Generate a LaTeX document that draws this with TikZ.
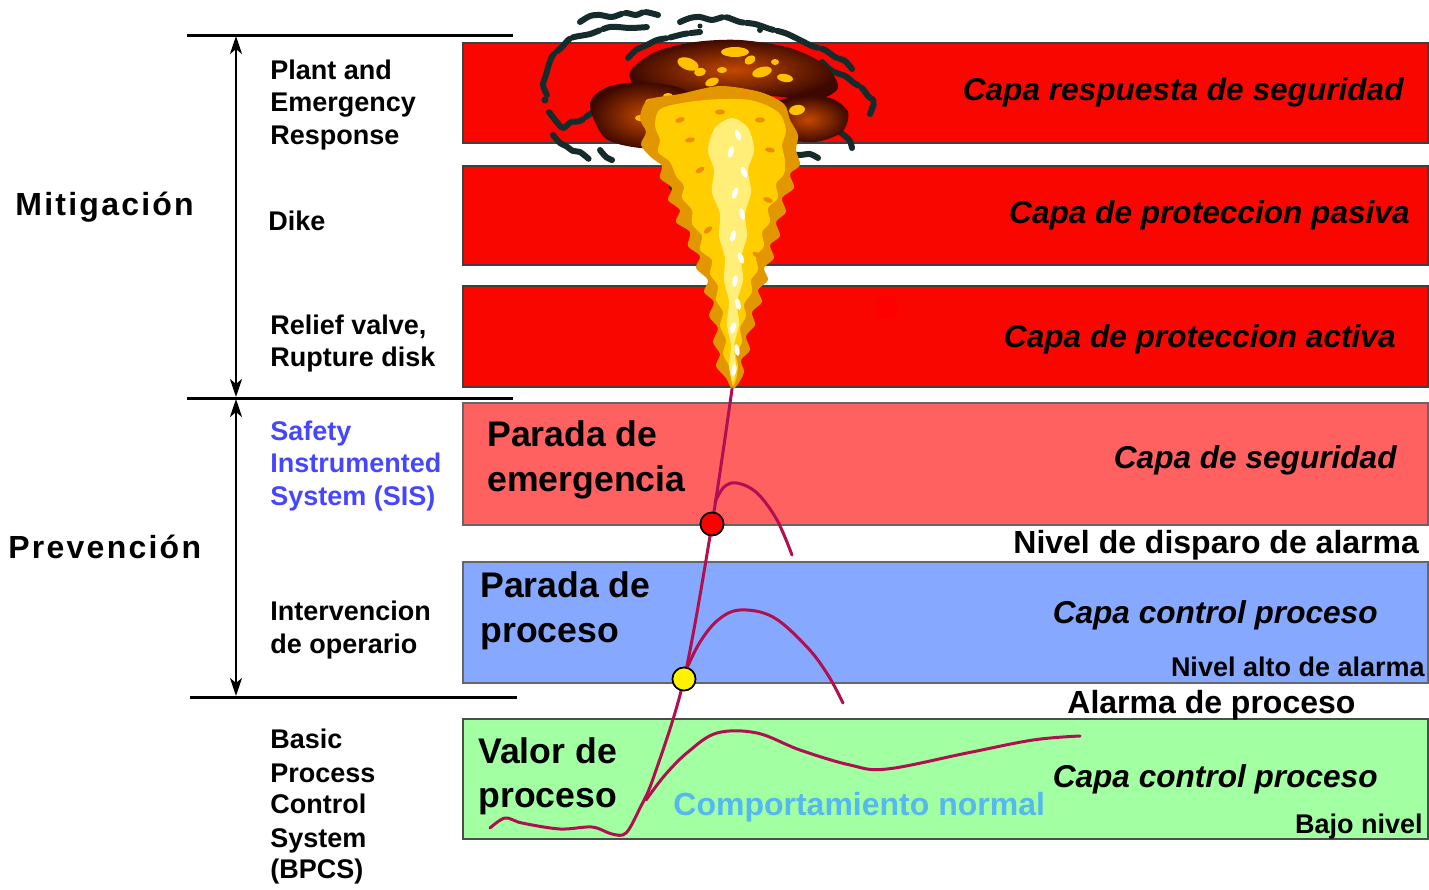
\documentclass[tikz,border=0pt]{standalone}
\usepackage{fontspec}
\setmainfont{Liberation Sans}
\newfontfamily\trackfont[LetterSpace=7]{Liberation Sans}
\usetikzlibrary{arrows.meta,fit}

\definecolor{layerred}{RGB}{250,6,0}
\definecolor{sisred}{RGB}{255,96,96}
\definecolor{bpblue}{RGB}{134,168,255}
\definecolor{bpgreen}{RGB}{162,255,162}
\definecolor{trend}{RGB}{176,16,80}
\definecolor{sisblue}{RGB}{70,70,255}
\definecolor{normblue}{RGB}{85,185,240}
\definecolor{smoke}{RGB}{22,44,44}
\definecolor{emberdark}{RGB}{60,8,0}
\definecolor{embermid}{RGB}{196,72,0}
\definecolor{flamegold}{RGB}{226,150,0}
\definecolor{flameyellow}{RGB}{255,205,0}
\definecolor{flamepale}{RGB}{255,238,120}

\tikzset{
  layer/.style={draw=black!75, line width=0.8pt, inner sep=0pt},
  hline/.style={line width=1.5pt, black},
  dim/.style={line width=1.3pt, black, {Stealth[length=9pt,width=6pt,inset=2.5pt]}-{Stealth[length=9pt,width=6pt,inset=2.5pt]}},
  lbl/.style={anchor=base west, inner sep=0pt, font=\bfseries\fontsize{13.5pt}{16pt}\selectfont},
  sect/.style={anchor=base west, inner sep=0pt, font=\trackfont\bfseries\fontsize{16pt}{19pt}\selectfont},
  boxlbl/.style={anchor=base west, inner sep=0pt, font=\bfseries\fontsize{17.8pt}{20pt}\selectfont},
  capa/.style={anchor=base east, inner sep=0pt, font=\bfseries\itshape\fontsize{15.8pt}{19pt}\selectfont},
  level/.style={inner sep=0pt, font=\bfseries\fontsize{16pt}{19pt}\selectfont},
  smalllevel/.style={anchor=base east, inner sep=0pt, font=\bfseries\fontsize{13.5pt}{16pt}\selectfont},
  trendline/.style={draw=trend, line width=1.5pt, line cap=round, line join=round},
  marker/.style={circle, draw=black, line width=0.8pt, minimum size=11.5pt, inner sep=0pt},
  smokestroke/.style={draw=smoke, line width=3pt, line cap=round, line join=round,
    dash pattern=on 22pt off 2pt on 9pt off 1.5pt on 14pt off 2pt},
  glow/.style={fill=flameyellow!85!orange},
}

\begin{document}
\begin{tikzpicture}[x=0.5pt,y=-0.5pt]
\useasboundingbox (0,0) rectangle (1429,889);

% ---------- layer bands ----------
\node[layer, fill=layerred, fit={(463,43)(1428,143)}]  (resp) {};
\node[layer, fill=layerred, fit={(463,166)(1428,265)}] (pasiva) {};
\node[layer, fill=layerred, fit={(463,286)(1428,387)}] (activa) {};
\node[layer, fill=sisred, draw=black!60,  fit={(463,403)(1428,525)}] (seguridad) {};
\node[layer, fill=bpblue, draw=black!60,  fit={(463,562)(1428,683)}] (control) {};
\node[layer, fill=bpgreen, draw=black!70, fit={(463,719)(1428,839)}] (basico) {};
\fill[red] (887,307) circle[radius=12];

% ---------- separators and extents ----------
\coordinate (s1w) at (187,35);  \coordinate (s1e) at (513,35);
\coordinate (s2w) at (187,398); \coordinate (s2e) at (513,398);
\coordinate (s3w) at (190,697); \coordinate (s3e) at (517,697);
\draw[hline] (s1w) -- (s1e);
\draw[hline] (s2w) -- (s2e);
\draw[hline] (s3w) -- (s3e);
\coordinate (m1) at (236,36);  \coordinate (m2) at (236,397);
\coordinate (p1) at (236,399); \coordinate (p2) at (236,696);
\draw[dim] (m1) -- (m2);
\draw[dim] (p1) -- (p2);

% ---------- explosion: smoke ----------
\draw[smokestroke] plot[smooth] coordinates {(580,22)(590,16)(600,15)(612,17)(625,13)(636,15)(645,12)(658,15)};
\draw[smokestroke] plot[smooth] coordinates {(547,95)(543,85)(546,75)(549,64)(553,55)(562,47)(571,38)(590,34)(610,27)(630,28)(648,27)};
\draw[smokestroke] plot[smooth] coordinates {(549,112)(556,121)(563,128)(571,122)(580,121)(590,114)(598,110)};
\draw[smokestroke] plot[smooth] coordinates {(553,135)(560,143)(566,146)(573,151)(580,152)(590,160)};
\draw[smokestroke] plot[smooth] coordinates {(628,58)(636,50)(645,46)(657,40)(668,38)(684,34)(700,32)};
\draw[smokestroke] plot[smooth] coordinates {(680,22)(690,18)(700,17)(712,20)(725,17)(740,22)(755,24)(770,29)(785,33)(798,39)(812,46)(825,50)(835,57)(845,61)(852,69)};
\draw[smokestroke] plot[smooth] coordinates {(822,62)(832,71)(845,76)(854,83)(862,88)(868,96)(874,102)(870,114)};
\draw[smokestroke] plot[smooth] coordinates {(828,128)(838,131)(845,136)(850,141)(852,148)};
\draw[smokestroke] plot[smooth] coordinates {(785,150)(793,154)(800,155)(810,154)(818,158)};
\draw[smokestroke] plot[smooth] coordinates {(600,150)(606,157)(612,160)};
\foreach \cx/\cy/\r in {672/187/3, 687/217/3, 783/180/3, 545/100/3.5, 872/108/3.5, 760/30/3, 700/26/2.5}
  \fill[smoke] (\cx,\cy) circle[radius=\r];

% ---------- explosion: cloud ----------
\shade[inner color=embermid, outer color=emberdark]
  plot[smooth cycle] coordinates {(630,72)(655,52)(695,42)(740,40)(790,48)(825,65)(838,88)(815,100)(770,96)(730,100)(680,98)(640,90)};
\shade[inner color=embermid, outer color=emberdark]
  plot[smooth cycle] coordinates {(590,105)(605,88)(640,82)(680,88)(700,105)(695,130)(680,147)(640,148)(605,138)};
\shade[inner color=embermid, outer color=emberdark]
  plot[smooth cycle] coordinates {(770,105)(795,97)(830,98)(848,112)(842,132)(815,142)(785,138)(772,122)};
\foreach \cx/\cy/\rx/\ry/\a in {688/64/11/6/-20, 700/72/6/4/10, 735/52/14/5/0, 750/60/6/4/30, 762/72/10/5/15,
  785/78/8/4/-10, 712/82/7/4/20, 722/70/5/3/0, 655/104/10/5/-15, 668/96/5/3/0, 797/110/8/5/10, 640/118/5/3/0, 775/62/4/3/0}
  \fill[glow, rotate around={\a:(\cx,\cy)}] (\cx,\cy) ellipse[x radius=\rx, y radius=\ry];

% ---------- explosion: plume ----------
\fill[flamegold] plot[smooth cycle, tension=0.5] coordinates {
  (648,100)(640,118)(646,132)(641,145)(652,158)(662,166)(660,178)(672,188)(668,200)(680,210)
  (676,222)(690,232)(688,246)(700,256)(696,268)(708,280)(704,292)(714,302)(709,316)(718,328)
  (713,342)(720,354)(716,366)(726,378)(732,389)
  (738,384)(744,372)(741,360)(750,350)(746,336)(755,325)(752,312)(762,302)(758,290)(768,280)
  (764,268)(774,258)(770,245)(780,236)(776,222)(786,212)(782,198)(794,188)(790,174)(800,165)
  (796,150)(798,135)(790,120)(784,104)(760,92)(720,86)(680,94)};
\fill[flameyellow] plot[smooth cycle, tension=0.5] coordinates {
  (662,108)(655,125)(660,140)(658,152)(670,162)(676,176)(684,186)(682,198)(692,210)(692,224)
  (702,236)(700,250)(712,260)(710,274)(718,286)(716,300)(723,312)(720,326)(726,340)(723,354)
  (729,366)(731,380)(733,386)
  (736,380)(738,366)(736,354)(742,342)(740,328)(746,316)(744,304)(752,292)(751,280)(758,270)
  (756,256)(764,246)(762,232)(770,222)(768,208)(778,198)(776,184)(784,174)(785,160)(782,145)
  (786,130)(778,112)(750,100)(705,100)};
\fill[flamepale] plot[smooth cycle, tension=0.5] coordinates {
  (715,128)(708,150)(714,170)(712,192)(720,214)(719,236)(725,258)(724,280)(729,302)(727,324)
  (731,346)(729,366)(733,382)
  (736,366)(734,346)(739,324)(737,302)(743,280)(741,258)(747,236)(745,214)(751,192)(748,170)
  (754,150)(748,128)(732,118)};
\foreach \cx/\cy/\a in {738/135/20, 731/152/-15, 744/172/25, 735/193/-20, 742/214/15, 733/236/-15, 741/258/20,
  735/281/-10, 738/304/15, 733/328/-15, 737/350/10, 734/370/-10}
  \fill[white, rotate around={\a:(\cx,\cy)}] (\cx,\cy) ellipse[x radius=2.5, y radius=6];
\foreach \cx/\cy/\a in {700/170/30, 768/200/-20, 708/230/40, 757/255/-30, 690/140/10, 770/150/-10, 680/120/20, 760/120/0, 720/112/0, 700/98/0, 745/94/10}
  \fill[flamegold!60!orange, rotate around={\a:(\cx,\cy)}] (\cx,\cy) ellipse[x radius=5, y radius=2.5];

% ---------- process variable trajectories ----------
\node[marker, fill=red]  (trip)  at (712,524) {};
\node[marker, fill=yellow] (alarm) at (684,679) {};
\coordinate (tip) at (732,389);
\draw[trendline] plot[smooth, tension=0.55] coordinates {
  (490,828)(505,818)(522,823)(560,829)(592,827)(612,834)(626,833)(640,808)(654,776)(684,679)(712,524)(732,389)};
\draw[trendline] plot[smooth, tension=0.6] coordinates {
  (646,800)(665,775)(688,752)(717,733)(757,733)(800,750)(850,765)(887,769)(967,753)(1033,740)(1080,736)};
\draw[trendline] plot[smooth, tension=0.6] coordinates {
  (687,668)(700,642)(718,620)(740,610)(773,617)(807,647)(828,675)(843,703)};
\draw[trendline] plot[smooth, tension=0.6] coordinates {
  (715,502)(724,487)(737,483)(757,493)(777,520)(792,555)};
\node[marker, fill=red]  at (trip) {};
\node[marker, fill=yellow] at (alarm) {};

% ---------- section titles ----------
\node[sect] (mit)  at (15,215) {Mitigación};
\node[sect] (prev) at (8,558)  {Prevención};

% ---------- protection means ----------
\node[lbl] (per1) at (270,79)  {Plant and};
\node[lbl] (per2) at (270,111) {Emergency};
\node[lbl] (per3) at (270,144) {Response};
\node[lbl] (dike) at (268,230) {Dike};
\node[lbl] (rv1)  at (270,334) {Relief valve,};
\node[lbl] (rv2)  at (270,366) {Rupture disk};
\node[lbl, text=sisblue] (sis1) at (270,440) {Safety};
\node[lbl, text=sisblue] (sis2) at (270,472) {Instrumented};
\node[lbl, text=sisblue] (sis3) at (270,505) {System (SIS)};
\node[lbl] (op1) at (270,620) {Intervencion};
\node[lbl] (op2) at (270,653) {de operario};
\node[lbl] (bp1) at (270,748) {Basic};
\node[lbl] (bp2) at (270,782) {Process};
\node[lbl] (bp3) at (270,813) {Control};
\node[lbl] (bp4) at (270,847) {System};
\node[lbl] (bp5) at (270,878) {(BPCS)};

% ---------- band titles ----------
\node[boxlbl] (pe1) at (487,446) {Parada de};
\node[boxlbl] (pe2) at (487,491) {emergencia};
\node[boxlbl] (pp1) at (480,597) {Parada de};
\node[boxlbl] (pp2) at (480,642) {proceso};
\node[boxlbl] (vp1) at (478,763) {Valor de};
\node[boxlbl] (vp2) at (478,807) {proceso};

\node[capa] (c1) at (1404,100) {Capa respuesta de seguridad};
\node[capa] (c2) at (1410,223) {Capa de proteccion pasiva};
\node[capa] (c3) at (1396,347) {Capa de proteccion activa};
\node[capa] (c4) at (1397,468) {Capa de seguridad};
\node[capa] (c5) at (1378,623) {Capa control proceso};
\node[capa] (c6) at (1378,787) {Capa control proceso};

% ---------- levels ----------
\node[level, anchor=base west] (trip lvl) at (1013,553) {Nivel de disparo de alarma};
\node[smalllevel] (high lvl) at (1425,676) {Nivel alto de alarma};
\node[level, anchor=base west] (proc alarm) at (1067,713) {Alarma de proceso};
\node[smalllevel] (low lvl) at (1423,833) {Bajo nivel};
\node[level, anchor=base west, text=normblue] (normal) at (673,815) {Comportamiento normal};
\end{tikzpicture}
\end{document}
